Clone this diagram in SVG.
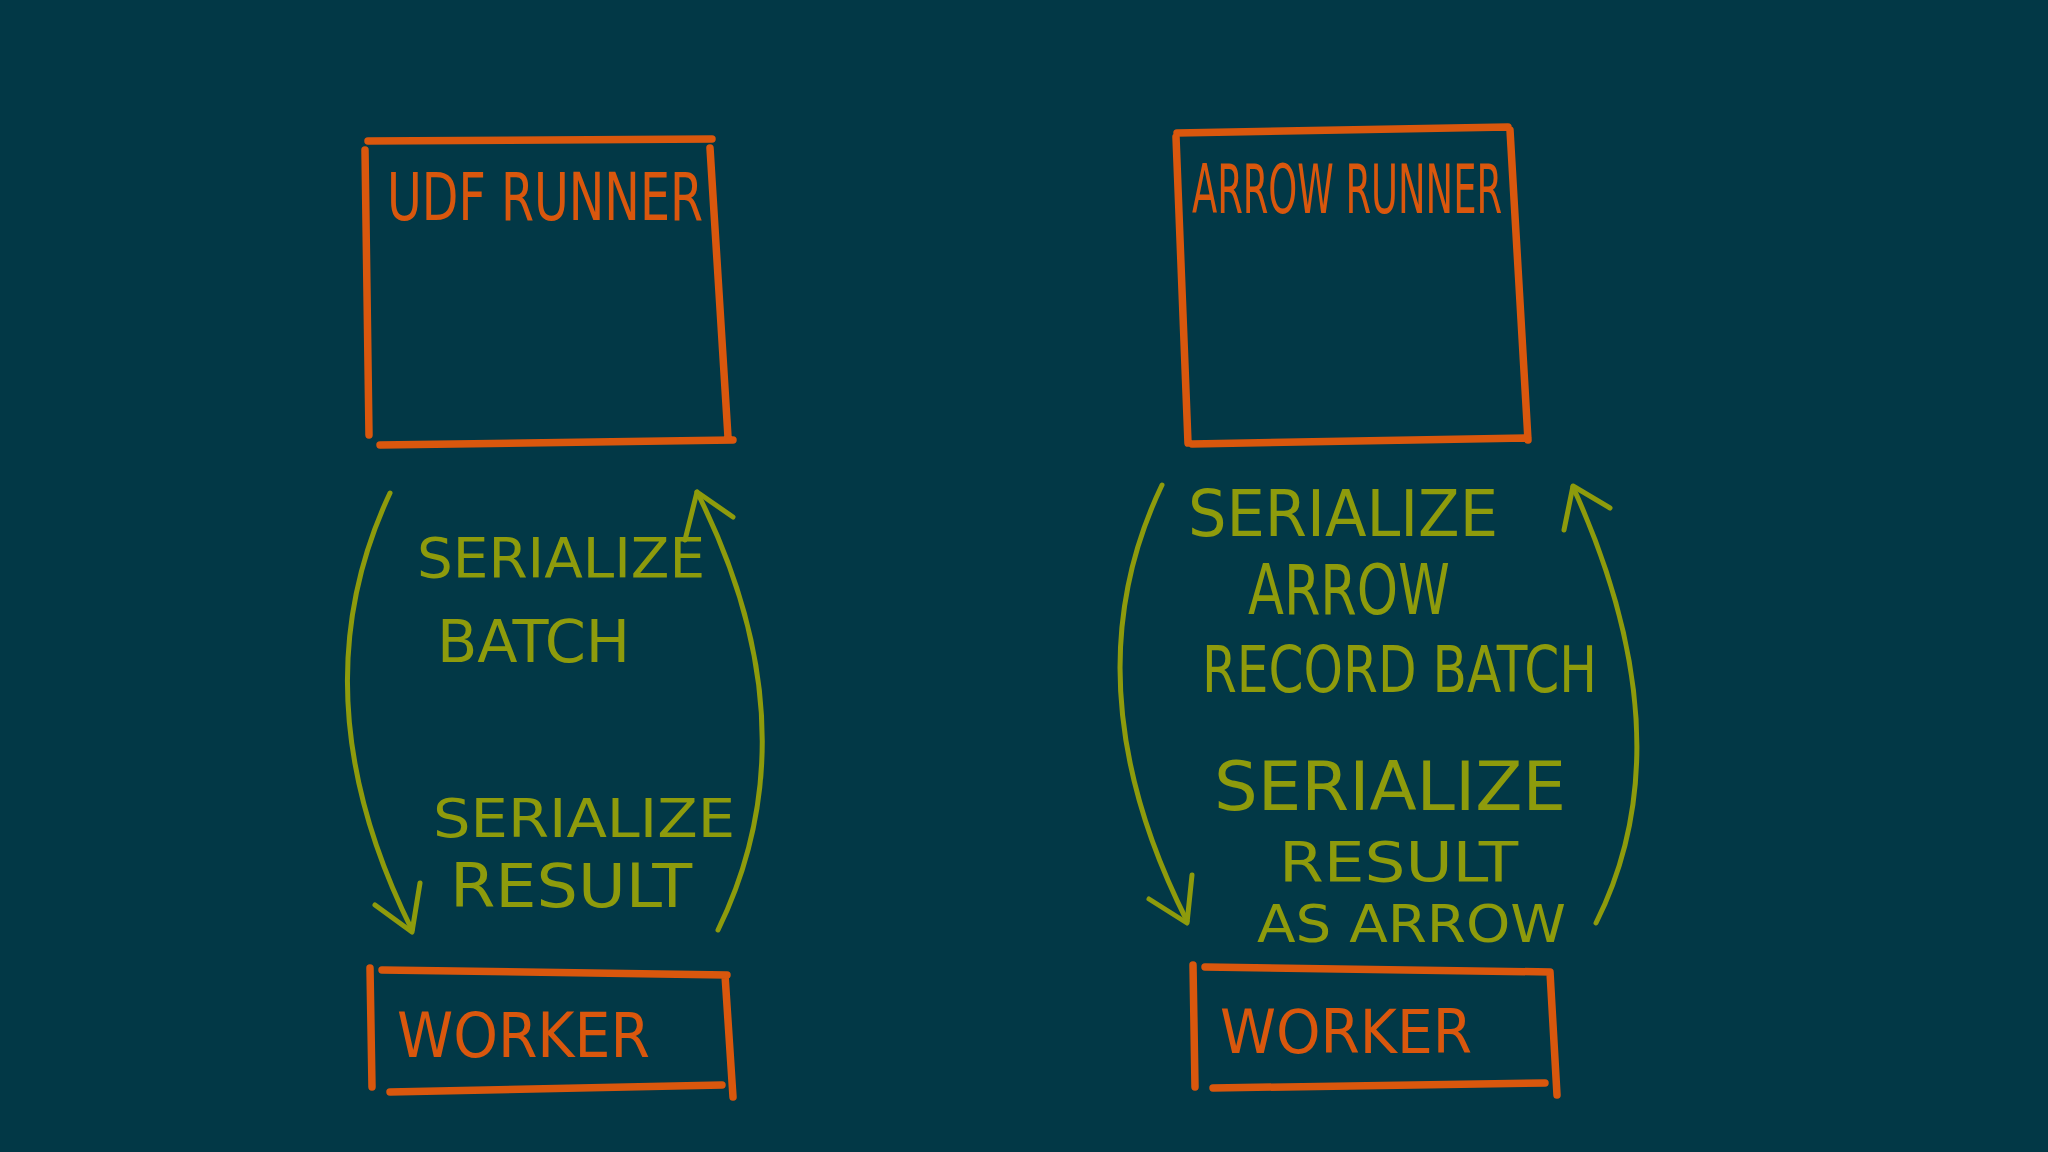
<svg xmlns="http://www.w3.org/2000/svg" width="2048" height="1152" viewBox="0 0 2048 1152">
<style>
.bg{fill:#023846}
.box{stroke:#d9570d;stroke-width:7.5;stroke-linecap:round;fill:none}
.ot{fill:#d9570d;font-family:"Liberation Sans Narrow","DejaVu Sans Condensed","Liberation Sans",sans-serif}
.gt{fill:#8e9b0c;font-family:"Liberation Sans Narrow","DejaVu Sans Condensed","Liberation Sans",sans-serif}
.arr{stroke:#8e9b0c;stroke-width:5;stroke-linecap:round;stroke-linejoin:round;fill:none}
</style>
<rect class="bg" x="0" y="0" width="2048" height="1152"/>
<g id="udf-runner">
<path class="box" d="M368,141 L712,139 M365,150 L369,435 M710,148 L728,437 M380,445 L733,440"/>
<text class="ot" x="387" y="220" font-size="66" textLength="316" lengthAdjust="spacingAndGlyphs">UDF RUNNER</text>
</g>
<g id="udf-worker">
<path class="box" d="M370,968 L372,1087 M382,970 L727,975 M725,975 L733,1097 M390,1092 L722,1085"/>
<text class="ot" x="397" y="1057" font-size="62" textLength="253" lengthAdjust="spacingAndGlyphs">WORKER</text>
</g>
<g id="arrow-runner">
<path class="box" d="M1177,133 L1508,127 M1176,137 L1188,443 M1510,130 L1528,440 M1192,444 L1528,438"/>
<text class="ot" x="1192" y="213" font-size="68" textLength="310" lengthAdjust="spacingAndGlyphs">ARROW RUNNER</text>
</g>
<g id="arrow-worker">
<path class="box" d="M1193,965 L1195,1087 M1205,967 L1550,972 M1550,972 L1557,1095 M1213,1088 L1545,1083"/>
<text class="ot" x="1220" y="1053" font-size="60" textLength="252" lengthAdjust="spacingAndGlyphs">WORKER</text>
</g>
<g id="connectors">
<path class="arr" d="M390,493 Q295,695 412,930"/>
<path class="arr" d="M375,905 L412,932 L420,883"/>
<path class="arr" d="M718,930 Q816,729 697,492"/>
<path class="arr" d="M685,540 L697,492 L733,517"/>
<path class="arr" d="M1162,485 Q1067,683 1187,921"/>
<path class="arr" d="M1149,899 L1187,923 L1192,875"/>
<path class="arr" d="M1596,923 Q1688,740 1573,487"/>
<path class="arr" d="M1564,530 L1573,486 L1610,508"/>
</g>
<g id="labels-left">
<text class="gt" x="417" y="577" font-size="56" textLength="288" lengthAdjust="spacingAndGlyphs">SERIALIZE</text>
<text class="gt" x="437" y="662" font-size="58" textLength="193" lengthAdjust="spacingAndGlyphs">BATCH</text>
<text class="gt" x="433" y="837" font-size="54" textLength="302" lengthAdjust="spacingAndGlyphs">SERIALIZE</text>
<text class="gt" x="450" y="907" font-size="60" textLength="242" lengthAdjust="spacingAndGlyphs">RESULT</text>
</g>
<g id="labels-right">
<text class="gt" x="1188" y="536" font-size="64" textLength="310" lengthAdjust="spacingAndGlyphs">SERIALIZE</text>
<text class="gt" x="1248" y="614" font-size="70" textLength="202" lengthAdjust="spacingAndGlyphs">ARROW</text>
<text class="gt" x="1202" y="692" font-size="64" textLength="395" lengthAdjust="spacingAndGlyphs">RECORD BATCH</text>
<text class="gt" x="1214" y="810" font-size="68" textLength="352" lengthAdjust="spacingAndGlyphs">SERIALIZE</text>
<text class="gt" x="1279" y="881" font-size="56" textLength="239" lengthAdjust="spacingAndGlyphs">RESULT</text>
<text class="gt" x="1257" y="942" font-size="52" textLength="309" lengthAdjust="spacingAndGlyphs">AS ARROW</text>
</g>
</svg>
